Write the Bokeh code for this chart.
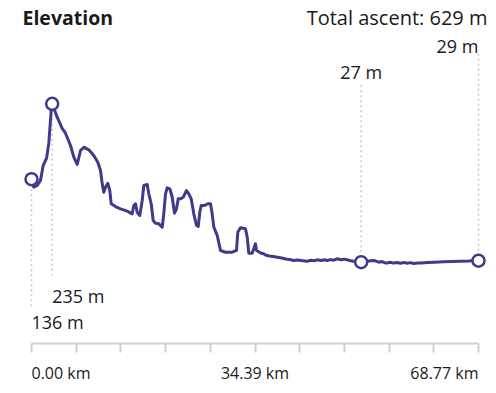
from bokeh.plotting import figure
from bokeh.models import Range1d, LinearAxis, FixedTicker, Label
from bokeh.embed import file_html
from bokeh.resources import INLINE

# ---------------- data ----------------
PROFILE_KM = [0.00, 0.35, 0.88, 1.38, 1.80, 2.31, 2.66, 3.03, 3.18, 3.95, 4.72, 5.23, 6.00, 6.51,
              7.03, 7.54, 8.05, 8.82, 9.58, 10.20, 10.62, 10.88, 11.12, 11.38, 11.74, 12.05, 12.26,
              12.92, 13.69, 14.72, 15.49, 15.74, 16.00, 16.26, 16.66, 17.03, 17.28, 17.80, 18.05,
              18.42, 18.72, 19.08, 19.58, 20.11, 20.35, 20.62, 20.88, 21.28, 21.65, 22.00, 22.31,
              22.57, 22.92, 23.34, 23.85, 24.20, 24.57, 24.97, 25.38, 25.65, 25.89, 26.11, 26.62,
              27.12, 27.54, 27.80, 28.05, 28.57, 29.08, 29.85, 30.88, 31.54, 31.74, 32.15, 32.92,
              33.19, 33.43, 33.95, 34.31, 34.46, 34.62, 35.34, 35.74, 36.00, 36.6, 37.2, 37.8,
              38.5, 39.1, 39.7, 40.35, 40.9, 41.5, 42.42, 43.0, 43.5, 43.95, 44.6, 45.1, 45.49,
              46.0, 46.5, 47.03, 47.6, 48.1, 48.57, 49.1, 49.59, 50.2, 50.72, 51.2, 51.65, 52.2,
              52.66, 53.1, 53.43, 53.9, 54.3, 54.72, 55.2, 55.7, 56.2, 56.77, 57.3, 57.8, 58.3,
              58.82, 59.4, 60.0, 60.88, 62.0, 63.43, 64.7, 66.0, 67.3, 68.2, 68.77]
PROFILE_M = [136, 125.5, 127.7, 134.3, 154, 163.2, 182.9, 226.2, 235, 217.4, 202.6, 196.4, 180.2, 164.9,
             155.3, 173.7, 178, 174.6, 167.1, 158.3, 147.4, 129.9, 118.9, 125.5, 130.7, 121.1, 103.7,
             100.1, 97.1, 94, 90.5, 101.4, 103.7, 92.6, 88.3, 108, 127.7, 129, 116.8,
             103.7, 81.7, 78.2, 77.4, 73, 90.5, 116.8, 124.7, 123.4, 112.3, 91.3, 97.1,
             110.2, 110.2, 112.3, 121.1, 116.8, 110.2, 90.5, 75.2, 73.9, 92.6, 101.4, 101.4,
             103.7, 103.7, 90.5, 73, 62.1, 42.4, 40.1, 40.1, 42.4, 66.4, 72.2, 70.8,
             59.8, 38.8, 38.8, 47.6, 51.2, 42.4, 38.8, 38.0, 36.5, 35.2, 34.6, 33.6,
             32.4, 31.2, 30.6, 29.2, 30.0, 29.1, 28.3, 29.5, 28.9, 30.1, 29.3, 30.2, 29.2,
             30.4, 29.6, 31.5, 30.3, 31.0, 30.1, 29.0, 28.3, 27.6, 27, 27.8, 28.3, 28.9,
             29.2, 28.0, 27.0, 27.8, 26.4, 25.9, 26.9, 25.8, 26.6, 25.7, 26.7, 25.6, 26.4,
             25.2, 26.0, 25.8, 26.6, 26.9, 27.5, 27.8, 28.3, 28.7, 29.2, 29]

MARK_KM = [0.00, 3.18, 50.72, 68.77]
MARK_M = [136, 235, 27, 29]
MARK_LABELS = ["136 m", "235 m", "27 m", "29 m"]

TICK_KM = [0.00, 6.877, 13.754, 20.631, 27.508, 34.385, 41.262, 48.139, 55.016, 61.893, 68.77]
TICK_LABEL_KM = [0.00, 34.385, 68.77]
TICK_LABELS = ["0.00 km", "34.39 km", "68.77 km"]

TITLE = "Elevation"
ASCENT = "Total ascent: 629 m"

# ---------------- layout (frame = whole canvas) ----------------
W, H = 496, 393
X0_PX, X1_PX = 31, 478          # pixel span of 0 .. 68.77 km
X_MAX = 68.77
KM_PER_PX = X_MAX / (X1_PX - X0_PX)
X_START = -X0_PX * KM_PER_PX
X_END = X_MAX + (W - X1_PX) * KM_PER_PX
M_PER_PX = 1.3132
REF_M, REF_PX = 235, 103.3
Y_TOP = REF_M + REF_PX * M_PER_PX
Y_BOT = REF_M - (H - REF_PX) * M_PER_PX

LINE_COLOR = "#3f3a8a"
TEXT_COLOR = "#1a1a1a"
GUIDE_COLOR = "#c8c8c8"
AXIS_COLOR = "#cfcfcf"
FONT = "Open Sans"
TEXT_SHIFT = 6.5   # baseline correction in pixels


def x_at(px):
    return X_START + px * KM_PER_PX


def y_at(py):
    return Y_TOP - py * M_PER_PX


def ty(py):
    return y_at(py - TEXT_SHIFT)


p = figure(width=W, height=H, output_backend="svg", toolbar_location=None,
           x_range=Range1d(X_START, X_END), y_range=Range1d(Y_BOT, Y_TOP),
           x_axis_location=None, y_axis_location=None,
           min_border=0, min_border_left=0, min_border_right=0,
           min_border_top=0, min_border_bottom=0)
p.outline_line_color = None
p.grid.visible = False
p.background_fill_color = "white"
p.border_fill_color = "white"

ax = LinearAxis(ticker=FixedTicker(ticks=TICK_KM), fixed_location=y_at(343),
                bounds=(TICK_KM[0], TICK_KM[-1]))
ax.axis_line_color = AXIS_COLOR
ax.axis_line_width = 2
ax.major_tick_line_color = AXIS_COLOR
ax.major_tick_line_width = 2
ax.major_tick_in = 0
ax.major_tick_out = 9
ax.minor_tick_line_color = None
ax.major_label_text_font_size = "0px"
ax.major_label_text_color = None
p.add_layout(ax, "below")

# dashed guide lines from markers to label rows
guide_ends = [y_at(307), y_at(275), y_at(84), y_at(52)]
p.segment(x0=MARK_KM, y0=MARK_M, x1=MARK_KM, y1=guide_ends,
          line_color=GUIDE_COLOR, line_width=1.5, line_dash="2 3")

p.line(PROFILE_KM, PROFILE_M, line_color=LINE_COLOR, line_width=3, line_join="round")
p.scatter(MARK_KM, MARK_M, size=12, fill_color="white", line_color=LINE_COLOR, line_width=2.5)

# marker labels
label_rows = [ty(328), ty(301.5), ty(77.5), ty(51.5)]
label_align = ["left", "left", "center", "right"]
for km, yy, txt, al in zip(MARK_KM, label_rows, MARK_LABELS, label_align):
    p.add_layout(Label(x=km, y=yy, text=txt, text_font=FONT, text_font_size="18px",
                       text_color=TEXT_COLOR, text_align=al, text_baseline="alphabetic"))

# tick labels
tick_align = ["left", "center", "right"]
for km, txt, al in zip(TICK_LABEL_KM, TICK_LABELS, tick_align):
    p.add_layout(Label(x=km, y=ty(379), text=txt, text_font=FONT, text_font_size="16px",
                       text_color=TEXT_COLOR, text_align=al, text_baseline="alphabetic"))

# header texts
p.add_layout(Label(x=x_at(22), y=ty(23.5), text=TITLE, text_font=FONT, text_font_size="19.5px",
                   text_font_style="bold", text_color=TEXT_COLOR, text_align="left",
                   text_baseline="alphabetic"))
p.add_layout(Label(x=x_at(487), y=ty(23.5), text=ASCENT, text_font=FONT, text_font_size="20px",
                   text_color=TEXT_COLOR, text_align="right", text_baseline="alphabetic"))

open("out.html", "w").write(file_html(p, INLINE))
